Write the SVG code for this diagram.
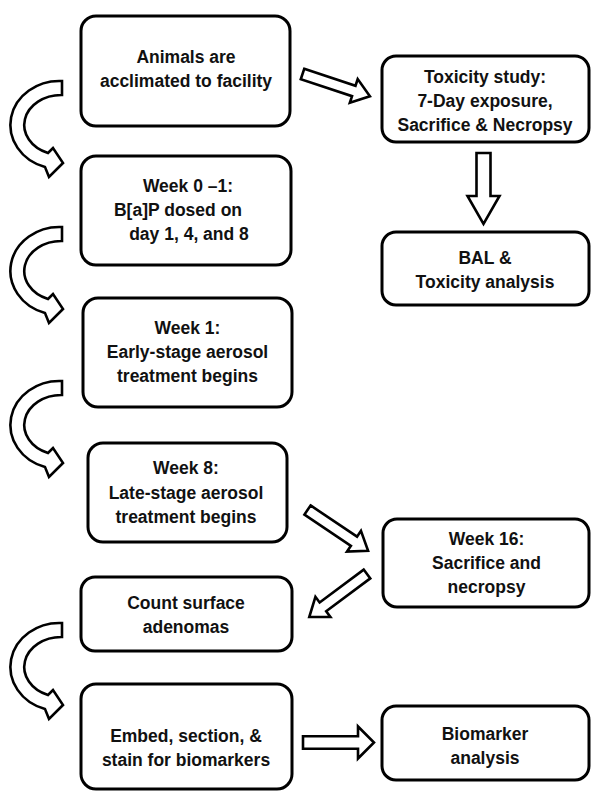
<svg xmlns="http://www.w3.org/2000/svg" xmlns:xlink="http://www.w3.org/1999/xlink" width="591" height="791" viewBox="0 0 591 791">
<style>
.box{fill:#fff;stroke:#000;stroke-width:3}
.arr{fill:#fff;stroke:#000;stroke-width:2.6;stroke-linejoin:miter}
text{font-family:"Liberation Sans",Arial,sans-serif;font-weight:bold;font-size:17.5px;fill:#111;text-anchor:middle}
</style>
<defs>
<path id="curve" d="M 62 81 A 49 44 0 0 0 45 167 L 49 177 L 63 163 L 53 148 L 48 153 A 37 30 0 0 1 62 95 Z"/>
</defs>
<rect width="591" height="791" fill="#fff"/>
<g id="connectors">
<use xlink:href="#curve" class="arr"/>
<use xlink:href="#curve" class="arr" transform="translate(0,146)"/>
<use xlink:href="#curve" class="arr" transform="translate(0,300)"/>
<use xlink:href="#curve" class="arr" transform="translate(0,542)"/>
<polygon class="arr" transform="translate(302.5,74) rotate(18.3)" points="0,-5.5 54,-5.5 54,-12.5 71,0 54,12.5 54,5.5 0,5.5"/>
<polygon class="arr" transform="translate(483.5,153) rotate(90)" points="0,-7 43,-7 43,-16 71,0 43,16 43,7 0,7"/>
<polygon class="arr" transform="translate(307.5,510) rotate(33.9)" points="0,-5.5 56,-5.5 56,-12.5 73,0 56,12.5 56,5.5 0,5.5"/>
<polygon class="arr" transform="translate(367,574) rotate(143.3)" points="0,-5.5 55,-5.5 55,-12.5 72,0 55,12.5 55,5.5 0,5.5"/>
<polygon class="arr" transform="translate(303,742.5) rotate(0)" points="0,-6.3 55,-6.3 55,-16 71,0 55,16 55,6.3 0,6.3"/>
</g>
<g id="n1"><rect class="box" x="81" y="16" width="209" height="110" rx="15"/>
<text x="186" y="63">Animals are</text><text x="186" y="87">acclimated to facility</text></g>
<g id="n2"><rect class="box" x="382" y="56" width="207" height="86" rx="14"/>
<text x="485" y="83">Toxicity study:</text><text x="485" y="107">7-Day exposure,</text><text x="485" y="131">Sacrifice &amp; Necropsy</text></g>
<g id="n3"><rect class="box" x="382" y="232" width="207" height="73" rx="14"/>
<text x="485" y="264">BAL &amp;</text><text x="485" y="288">Toxicity analysis</text></g>
<g id="n4"><rect class="box" x="81" y="156" width="210" height="109" rx="15"/>
<text x="188" y="192">Week 0 –1:</text><text x="178" y="216">B[a]P dosed on</text><text x="189" y="240">day 1, 4, and 8</text></g>
<g id="n5"><rect class="box" x="83" y="298" width="209" height="109" rx="15"/>
<text x="187.5" y="334">Week 1:</text><text x="187.5" y="358">Early-stage aerosol</text><text x="187.5" y="382">treatment begins</text></g>
<g id="n6"><rect class="box" x="88" y="443" width="199" height="99" rx="15"/>
<text x="186" y="474">Week 8:</text><text x="186" y="499">Late-stage aerosol</text><text x="186" y="523">treatment begins</text></g>
<g id="n7"><rect class="box" x="383" y="519" width="206" height="88" rx="14"/>
<text x="486.5" y="545">Week 16:</text><text x="486.5" y="569">Sacrifice and</text><text x="486.5" y="593">necropsy</text></g>
<g id="n8"><rect class="box" x="81" y="577" width="211" height="74" rx="14"/>
<text x="186" y="609">Count surface</text><text x="186" y="633">adenomas</text></g>
<g id="n9"><rect class="box" x="81" y="684" width="211" height="105" rx="15"/>
<text x="186" y="742">Embed, section, &amp;</text><text x="186" y="766">stain for biomarkers</text></g>
<g id="n10"><rect class="box" x="382" y="706" width="207" height="74" rx="14"/>
<text x="485" y="740">Biomarker</text><text x="485" y="764">analysis</text></g>
</svg>
